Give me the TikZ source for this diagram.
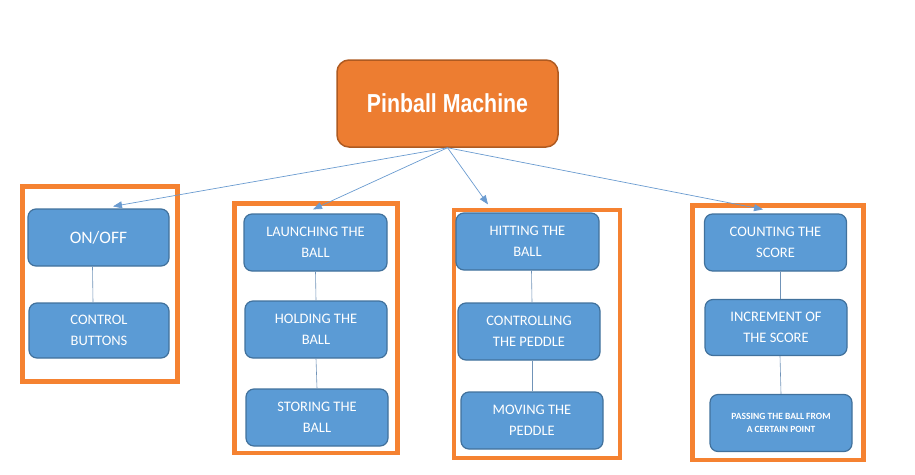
\documentclass[tikz,border=0pt]{standalone}
\usepackage{fontspec}
\setmainfont{Carlito}
\newfontfamily\titlefont[FakeStretch=0.82]{Liberation Sans}
\usetikzlibrary{arrows.meta,calc}

\definecolor{boxblue}{HTML}{5B9BD5}
\definecolor{boxedge}{HTML}{41719C}
\definecolor{titleorange}{HTML}{ED7D31}
\definecolor{titleedge}{HTML}{AE5A21}
\definecolor{framecol}{HTML}{F58231}
\definecolor{linkcol}{HTML}{6A9BD0}

\tikzset{
  task/.style={rectangle, rounded corners=8pt, draw=boxedge, fill=boxblue,
    line width=1.2pt, text=white, minimum width=142pt, minimum height=57pt,
    align=center, font=\fontsize{14.5}{21}\selectfont},
  group/.style={draw=framecol, line width=4.5pt},
  branch/.style={draw=linkcol, line width=0.7pt, -{Triangle[length=9pt,width=7pt]}},
  link/.style={draw=linkcol!70!gray, line width=0.6pt}
}

\begin{document}
\begin{tikzpicture}[x=1pt, y=-1pt]
    \useasboundingbox (0,0) rectangle (915,474);
    % main box
    \node [rectangle, rounded corners=12pt, draw=titleedge, fill=titleorange,
      line width=1.5pt, text=white, minimum width=221pt, minimum height=87pt,
      font=\titlefont\bfseries\fontsize{26}{30}\selectfont]
      (machine) at (447.5,103.5) {Pinball Machine};

    % orange groups
    \draw [group] (22.5,186.5) rectangle (177.5,381.5);
    \draw [group] (234.5,203.5) rectangle (397.5,453);
    \draw [group] (454,210) rectangle (620,458);
    \draw [group] (692.5,205.5) rectangle (863.5,460);

    % first column
    \node [task, minimum width=141pt, font=\fontsize{17.5}{21}\selectfont] (onoff) at (98.5,237.5) {ON/OFF};
    \node [task, minimum width=140pt, minimum height=55pt] (buttons) at (99,330.5) {CONTROL\\BUTTONS};

    % second column
    \node [task, minimum width=143pt] (launch) at (315.5,242.5) {LAUNCHING THE\\BALL};
    \node [task] (hold) at (316,329.5) {HOLDING THE\\BALL};
    \node [task] (store) at (317,417.5) {STORING THE\\BALL};

    % third column
    \node [task, minimum width=143pt] (hit) at (527.5,241.5) {HITTING THE\\BALL};
    \node [task] (control) at (529,331.5) {CONTROLLING\\THE PEDDLE};
    \node [task] (move) at (532,420.5) {MOVING THE\\PEDDLE};

    % fourth column
    \node [task] (count) at (775.5,242.5) {COUNTING THE\\SCORE};
    \node [task, minimum height=56pt] (incr) at (776,327.5) {INCREMENT OF\\THE SCORE};
    \node [task, font=\bfseries\fontsize{9.5}{12.5}\selectfont] (pass) at (781,423) {PASSING THE BALL FROM\\A CERTAIN POINT};

    % branches from the main box
    \draw [branch] (machine.south) -- ($(onoff.north)+(14.5,-2)$);
    \draw [branch] (machine.south) -- ($(launch.north)+(-2.5,-4)$);
    \draw [branch] (machine.south) -- ($(hit.north)+(-39.5,-8)$);
    \draw [branch] (machine.south) -- ($(count.north)+(-12.5,-4)$);

    % links inside the groups
    \draw [link] ($(onoff.south)+(-6,0)$) -- ($(buttons.north)+(-6,0)$);
    \draw [link] (launch.south) -- (hold.north);
    \draw [link] (hold.south) -- (store.north);
    \draw [link] ($(hit.south)+(4,0)$) -- ($(control.north)+(3,0)$);
    \draw [link] ($(control.south)+(3,0)$) -- (move.north);
    \draw [link] ($(count.south)+(4.5,0)$) -- ($(incr.north)+(4,0)$);
    \draw [link] ($(incr.south)+(4,0)$) -- (pass.north);
\end{tikzpicture}
\end{document}
